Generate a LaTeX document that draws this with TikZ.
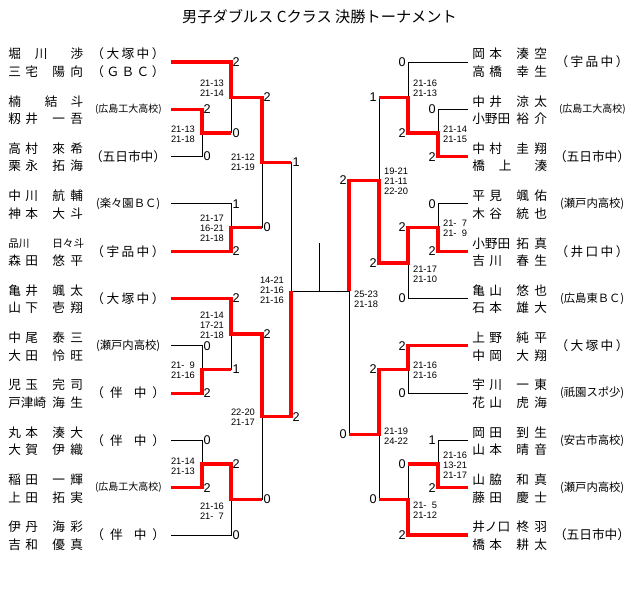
\documentclass[tikz,border=0pt]{standalone}
\usepackage{fontspec}
\setmainfont{Liberation Sans}
\newfontfamily\jp{Noto Sans CJK JP}
\usepackage{tikz}

\newdimen\pxu \pxu=0.75pt
% names: four fixed character slots
\newcommand\nm[4]{\makebox[17\pxu][l]{#1}\makebox[27\pxu][l]{#2}\makebox[18\pxu][l]{#3}#4}
\newcommand\nmt[3]{\makebox[44\pxu][l]{#1}\makebox[18\pxu][l]{#2}#3}
\newcommand\nmw[1]{\makebox[75\pxu][l]{#1}}
\newcommand\sch[2][73]{{\spaceskip=0pt plus 1fil\relax\makebox[#1\pxu][s]{#2}}}

\begin{document}
\begin{tikzpicture}[
    x=0.75pt, y=-0.75pt,
    line/.style={draw=black, line width=0.75pt},
    win/.style={draw=red, line width=2.4pt},
    title/.style={inner sep=0pt, font=\jp\fontsize{11.4}{13}\selectfont},
    player/.style={anchor=west, inner sep=0pt, font=\jp\fontsize{9.5}{11}\selectfont},
    school/.style={inner sep=0pt, font=\jp\fontsize{9.5}{11}\selectfont},
    ptL/.style={anchor=west, inner sep=1pt, font=\fontsize{9.5}{10}\selectfont},
    ptR/.style={anchor=east, inner sep=1.5pt, font=\fontsize{9.5}{10}\selectfont},
    gameL/.style={anchor=east, align=center, inner sep=1pt, font=\fontsize{7}{7.5}\selectfont},
    gameR/.style={anchor=west, align=center, inner sep=1pt, font=\fontsize{7}{7.5}\selectfont}
]
    \useasboundingbox (0,0) rectangle (640,593);

    % Title
    \node[title] (ttl) at (319.5,17) {男子ダブルス Cクラス 決勝トーナメント};

    % Left entries
    \coordinate (l1) at (171,62);
    \node[player] (l1a) at (8,54) {\nmw{堀\hspace{14\pxu}川\hfill 渉}};
    \node[player] (l1b) at (8,71.5) {\nm{三}{宅}{陽}{向}};
    \node[school] (l1s) at (128,54) {\sch{（ 大 塚 中 ）}};
    \node[school] (l1t) at (128,71.5) {\sch{（ Ｇ Ｂ Ｃ ）}};

    \coordinate (l2) at (171,109.3);
    \node[player] (l2a) at (8,101.3) {\nmw{楠\hspace{24\pxu}結\hfill 斗}};
    \node[player] (l2b) at (8,118.8) {\nm{籾}{井}{一}{吾}};
    \node[school] (l2s) at (128,109.3) {\fontsize{7.5}{8}\selectfont\sch[66]{( 広 島 工 大 高 校 )}};

    \coordinate (l3) at (171,156.6);
    \node[player] (l3a) at (8,148.6) {\nm{高}{村}{來}{希}};
    \node[player] (l3b) at (8,166.1) {\nm{栗}{永}{拓}{海}};
    \node[school] (l3s) at (128,156.6) {\sch[76]{（五日市中）}};

    \coordinate (l4) at (171,203.9);
    \node[player] (l4a) at (8,195.9) {\nm{中}{川}{航}{輔}};
    \node[player] (l4b) at (8,213.4) {\nm{神}{本}{大}{斗}};
    \node[school] (l4s) at (128,203.9) {\fontsize{8.5}{9}\selectfont\sch[64]{( 楽 々 園 Ｂ Ｃ )}};

    \coordinate (l5) at (171,251.2);
    \node[player] (l5a) at (8,243.2) {\fontsize{8}{9}\selectfont\makebox[44\pxu][l]{品川}日々斗};
    \node[player] (l5b) at (8,260.7) {\nm{森}{田}{悠}{平}};
    \node[school] (l5s) at (128,251.2) {\sch{（ 宇 品 中 ）}};

    \coordinate (l6) at (171,298.5);
    \node[player] (l6a) at (8,290.5) {\nm{亀}{井}{颯}{太}};
    \node[player] (l6b) at (8,308) {\nm{山}{下}{壱}{翔}};
    \node[school] (l6s) at (128,298.5) {\sch{（ 大 塚 中 ）}};

    \coordinate (l7) at (171,345.8);
    \node[player] (l7a) at (8,337.8) {\nm{中}{尾}{泰}{三}};
    \node[player] (l7b) at (8,355.3) {\nm{大}{田}{怜}{旺}};
    \node[school] (l7s) at (128,345.8) {\fontsize{8.5}{9}\selectfont\sch[64]{( 瀬 戸 内 高 校 )}};

    \coordinate (l8) at (171,393.1);
    \node[player] (l8a) at (8,385.1) {\nm{児}{玉}{完}{司}};
    \node[player] (l8b) at (8,402.6) {\nmt{戸津崎}{海}{生}};
    \node[school] (l8s) at (128,393.1) {\makebox[73\pxu][l]{（\hspace{6\pxu}伴\hspace{11\pxu}中\hspace{6\pxu}）}};

    \coordinate (l9) at (171,440.4);
    \node[player] (l9a) at (8,432.4) {\nm{丸}{本}{湊}{大}};
    \node[player] (l9b) at (8,449.9) {\nm{大}{賀}{伊}{織}};
    \node[school] (l9s) at (128,440.4) {\makebox[73\pxu][l]{（\hspace{6\pxu}伴\hspace{11\pxu}中\hspace{6\pxu}）}};

    \coordinate (l10) at (171,487.7);
    \node[player] (l10a) at (8,479.7) {\nm{稲}{田}{一}{輝}};
    \node[player] (l10b) at (8,497.2) {\nm{上}{田}{拓}{実}};
    \node[school] (l10s) at (128,487.7) {\fontsize{7.5}{8}\selectfont\sch[66]{( 広 島 工 大 高 校 )}};

    \coordinate (l11) at (171,535);
    \node[player] (l11a) at (8,527) {\nm{伊}{丹}{海}{彩}};
    \node[player] (l11b) at (8,544.5) {\nm{吉}{和}{優}{真}};
    \node[school] (l11s) at (128,535) {\makebox[73\pxu][l]{（\hspace{6\pxu}伴\hspace{11\pxu}中\hspace{6\pxu}）}};

    % Right entries
    \coordinate (r1) at (468,62);
    \node[player] (r1a) at (472,54) {\nm{岡}{本}{湊}{空}};
    \node[player] (r1b) at (472,71.5) {\nm{高}{橋}{幸}{生}};
    \node[school] (r1s) at (592,62) {\sch{（ 宇 品 中 ）}};

    \coordinate (r2) at (468,109.3);
    \node[player] (r2a) at (472,101.3) {\nm{中}{井}{涼}{太}};
    \node[player] (r2b) at (472,118.8) {\nmt{小野田}{裕}{介}};
    \node[school] (r2s) at (592,109.3) {\fontsize{7.5}{8}\selectfont\sch[66]{( 広 島 工 大 高 校 )}};

    \coordinate (r3) at (468,156.6);
    \node[player] (r3a) at (472,148.6) {\nm{中}{村}{圭}{翔}};
    \node[player] (r3b) at (472,166.1) {\nmw{橋\hspace{14\pxu}上\hfill 湊}};
    \node[school] (r3s) at (592,156.6) {\sch[76]{（五日市中）}};

    \coordinate (r4) at (468,203.9);
    \node[player] (r4a) at (472,195.9) {\nm{平}{見}{颯}{佑}};
    \node[player] (r4b) at (472,213.4) {\nm{木}{谷}{統}{也}};
    \node[school] (r4s) at (592,203.9) {\fontsize{8.5}{9}\selectfont\sch[64]{( 瀬 戸 内 高 校 )}};

    \coordinate (r5) at (468,251.2);
    \node[player] (r5a) at (472,243.2) {\nmt{小野田}{拓}{真}};
    \node[player] (r5b) at (472,260.7) {\nm{吉}{川}{春}{生}};
    \node[school] (r5s) at (592,251.2) {\sch{（ 井 口 中 ）}};

    \coordinate (r6) at (468,298.5);
    \node[player] (r6a) at (472,290.5) {\nm{亀}{山}{悠}{也}};
    \node[player] (r6b) at (472,308) {\nm{石}{本}{雄}{大}};
    \node[school] (r6s) at (592,298.5) {\fontsize{8.5}{9}\selectfont\sch[64]{( 広 島 東 Ｂ Ｃ )}};

    \coordinate (r7) at (468,345.8);
    \node[player] (r7a) at (472,337.8) {\nm{上}{野}{純}{平}};
    \node[player] (r7b) at (472,355.3) {\nm{中}{岡}{大}{翔}};
    \node[school] (r7s) at (592,345.8) {\sch{（ 大 塚 中 ）}};

    \coordinate (r8) at (468,393.1);
    \node[player] (r8a) at (472,385.1) {\nm{宇}{川}{一}{東}};
    \node[player] (r8b) at (472,402.6) {\nm{花}{山}{虎}{海}};
    \node[school] (r8s) at (592,393.1) {\fontsize{8.5}{9}\selectfont\sch[64]{( 祇 園 ス ポ 少 )}};

    \coordinate (r9) at (468,440.4);
    \node[player] (r9a) at (472,432.4) {\nm{岡}{田}{到}{生}};
    \node[player] (r9b) at (472,449.9) {\nm{山}{本}{晴}{音}};
    \node[school] (r9s) at (592,440.4) {\fontsize{8.5}{9}\selectfont\sch[64]{( 安 古 市 高 校 )}};

    \coordinate (r10) at (468,487.7);
    \node[player] (r10a) at (472,479.7) {\nm{山}{脇}{和}{真}};
    \node[player] (r10b) at (472,497.2) {\nm{藤}{田}{慶}{士}};
    \node[school] (r10s) at (592,487.7) {\fontsize{8.5}{9}\selectfont\sch[64]{( 瀬 戸 内 高 校 )}};

    \coordinate (r11) at (468,535);
    \node[player] (r11a) at (472,527) {\nmt{井ノ口}{柊}{羽}};
    \node[player] (r11b) at (472,544.5) {\nm{橋}{本}{耕}{太}};
    \node[school] (r11s) at (592,535) {\sch[76]{（五日市中）}};

    % Match points
    \coordinate (mA) at (202,132.95);
    \coordinate (mB) at (231,97.5);
    \coordinate (mC) at (231,227.55);
    \coordinate (mD) at (262,162.5);
    \coordinate (mE) at (202,369.45);
    \coordinate (mF) at (231,334);
    \coordinate (mG) at (202,464.05);
    \coordinate (mH) at (231,499.5);
    \coordinate (mI) at (262,416.75);
    \coordinate (mJ) at (291,291);
    \coordinate (nA) at (438,132.95);
    \coordinate (nB) at (408,97.5);
    \coordinate (nC) at (438,227.55);
    \coordinate (nD) at (408,263);
    \coordinate (nE) at (379,180.25);
    \coordinate (nF) at (408,369.45);
    \coordinate (nG) at (438,464.05);
    \coordinate (nH) at (408,499.5);
    \coordinate (nI) at (379,434.5);
    \coordinate (nJ) at (349,291);
    \coordinate (fin) at (319,291);
    \coordinate (champ) at (319,243);

    % Left bracket
    \draw[line] (l2) -| (mA);
    \draw[line] (l3) -| (mA);
    \draw[line] (l1) -| (mB);
    \draw[line] (mA) -| (mB);
    \draw[line] (l4) -| (mC);
    \draw[line] (l5) -| (mC);
    \draw[line] (mB) -| (mD);
    \draw[line] (mC) -| (mD);
    \draw[line] (l7) -| (mE);
    \draw[line] (l8) -| (mE);
    \draw[line] (l6) -| (mF);
    \draw[line] (mE) -| (mF);
    \draw[line] (l9) -| (mG);
    \draw[line] (l10) -| (mG);
    \draw[line] (mG) -| (mH);
    \draw[line] (l11) -| (mH);
    \draw[line] (mF) -| (mI);
    \draw[line] (mH) -| (mI);
    \draw[line] (mD) -| (mJ);
    \draw[line] (mI) -| (mJ);

    % Right bracket
    \draw[line] (r2) -| (nA);
    \draw[line] (r3) -| (nA);
    \draw[line] (r1) -| (nB);
    \draw[line] (nA) -| (nB);
    \draw[line] (r4) -| (nC);
    \draw[line] (r5) -| (nC);
    \draw[line] (nC) -| (nD);
    \draw[line] (r6) -| (nD);
    \draw[line] (nB) -| (nE);
    \draw[line] (nD) -| (nE);
    \draw[line] (r7) -| (nF);
    \draw[line] (r8) -| (nF);
    \draw[line] (r9) -| (nG);
    \draw[line] (r10) -| (nG);
    \draw[line] (nG) -| (nH);
    \draw[line] (r11) -| (nH);
    \draw[line] (nF) -| (nI);
    \draw[line] (nH) -| (nI);
    \draw[line] (nE) -| (nJ);
    \draw[line] (nI) -| (nJ);

    % Final
    \draw[line] (mJ) -- (nJ);
    \draw[line] (fin) -- (champ);

    % Winners
    \draw[win] (l2) -| (mA) -- (mA -| mB);
    \draw[win] (l1) -| (mB) -| (mD) -- (mD -| mJ);
    \draw[win] (l5) -| (mC) -- (mC -| mD);
    \draw[win] (l8) -| (mE) -- (mE -| mF);
    \draw[win] (l6) -| (mF) -| (mI) -| (mJ);
    \draw[win] (l10) -| (mG) -| (mH) -- (mH -| mI);
    \draw[win] (r3) -| (nA) -| (nB) -- (nB -| nE);
    \draw[win] (r5) -| (nC) -| (nD) -| (nE) -| (nJ);
    \draw[win] (r7) -| (nF) -| (nI) -- (nI -| nJ);
    \draw[win] (r10) -| (nG) -- (nG -| nH);
    \draw[win] (r11) -| (nH) -- (nH -| nI);

    % Points, left
    \node[ptL] (sA1) at (mA |- l2) {2};
    \node[ptL] (sA2) at (mA |- l3) {0};
    \node[ptL] (sB1) at (mB |- l1) {2};
    \node[ptL] (sB2) at (mB |- mA) {0};
    \node[ptL] (sC1) at (mC |- l4) {1};
    \node[ptL] (sC2) at (mC |- l5) {2};
    \node[ptL] (sD1) at (mD |- mB) {2};
    \node[ptL] (sD2) at (mD |- mC) {0};
    \node[ptL] (sE1) at (mE |- l7) {0};
    \node[ptL] (sE2) at (mE |- l8) {2};
    \node[ptL] (sF1) at (mF |- l6) {2};
    \node[ptL] (sF2) at (mF |- mE) {1};
    \node[ptL] (sG1) at (mG |- l9) {0};
    \node[ptL] (sG2) at (mG |- l10) {2};
    \node[ptL] (sH1) at (mH |- mG) {2};
    \node[ptL] (sH2) at (mH |- l11) {0};
    \node[ptL] (sI1) at (mI |- mF) {2};
    \node[ptL] (sI2) at (mI |- mH) {0};
    \node[ptL] (sJ1) at (mJ |- mD) {1};
    \node[ptL] (sJ2) at (mJ |- mI) {2};

    % Points, right
    \node[ptR] (tA1) at (nA |- r2) {0};
    \node[ptR] (tA2) at (nA |- r3) {2};
    \node[ptR] (tB1) at (nB |- r1) {0};
    \node[ptR] (tB2) at (nB |- nA) {2};
    \node[ptR] (tC1) at (nC |- r4) {0};
    \node[ptR] (tC2) at (nC |- r5) {2};
    \node[ptR] (tD1) at (nD |- nC) {2};
    \node[ptR] (tD2) at (nD |- r6) {0};
    \node[ptR] (tE1) at (nE |- nB) {1};
    \node[ptR] (tE2) at (nE |- nD) {2};
    \node[ptR] (tF1) at (nF |- r7) {2};
    \node[ptR] (tF2) at (nF |- r8) {0};
    \node[ptR] (tG1) at (nG |- r9) {1};
    \node[ptR] (tG2) at (nG |- r10) {2};
    \node[ptR] (tH1) at (nH |- nG) {0};
    \node[ptR] (tH2) at (nH |- r11) {2};
    \node[ptR] (tI1) at (nI |- nF) {2};
    \node[ptR] (tI2) at (nI |- nH) {0};
    \node[ptR] (tJ1) at (nJ |- nE) {2};
    \node[ptR] (tJ2) at (nJ |- nI) {0};

    % Game scores, left
    \node[gameL] (gA) at (196.5,134) {21-13\\21-18};
    \node[gameL] (gB) at (225.5,88) {21-13\\21-14};
    \node[gameL] (gC) at (225.5,228) {21-17\\16-21\\21-18};
    \node[gameL] (gD) at (256.5,162.5) {21-12\\21-19};
    \node[gameL] (gE) at (196.5,370.5) {21-\phantom{1}9\\21-16};
    \node[gameL] (gF) at (225.5,325) {21-14\\17-21\\21-18};
    \node[gameL] (gG) at (196.5,466) {21-14\\21-13};
    \node[gameL] (gH) at (225.5,511) {21-16\\21-\phantom{1}7};
    \node[gameL] (gI) at (256.5,417) {22-20\\21-17};
    \node[gameL] (gJ) at (285.5,290) {14-21\\21-16\\21-16};

    % Game scores, right
    \node[gameR] (hA) at (441.5,134) {21-14\\21-15};
    \node[gameR] (hB) at (411.5,88) {21-16\\21-13};
    \node[gameR] (hC) at (441.5,228) {21-\phantom{1}7\\21-\phantom{1}9};
    \node[gameR] (hD) at (411.5,274) {21-17\\21-10};
    \node[gameR] (hE) at (382.5,181) {19-21\\21-11\\22-20};
    \node[gameR] (hF) at (411.5,370) {21-16\\21-16};
    \node[gameR] (hG) at (441.5,465) {21-16\\13-21\\21-17};
    \node[gameR] (hH) at (411.5,510) {21-\phantom{1}5\\21-12};
    \node[gameR] (hI) at (382.5,436) {21-19\\24-22};
    \node[gameR] (hJ) at (352.5,299) {25-23\\21-18};

\end{tikzpicture}
\end{document}
